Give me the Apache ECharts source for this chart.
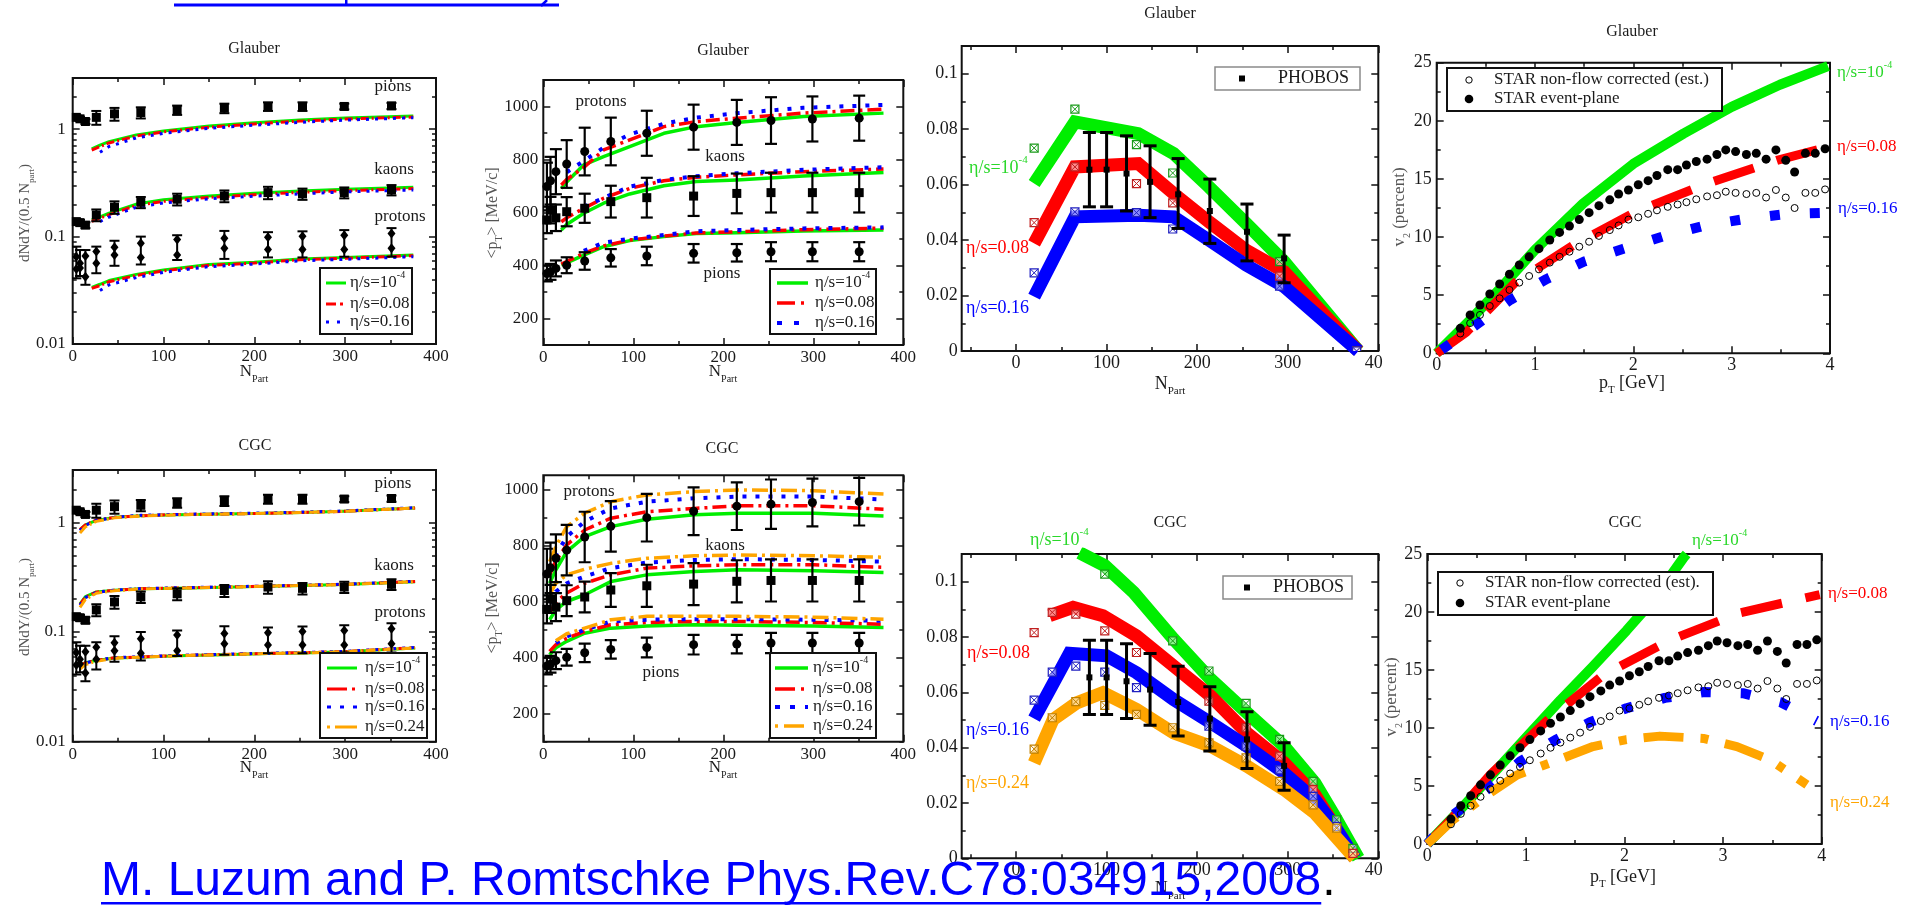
<!DOCTYPE html>
<html>
<head>
<meta charset="utf-8">
<script src="https://cdn.jsdelivr.net/npm/echarts@6/dist/echarts.min.js"></script>
<style>
  html, body { margin: 0; padding: 0; background: #fff; }
  #chart { width: 1907px; height: 905px; }
</style>
</head>
<body>
<div id="chart"></div>
<script>
// ===================== DATA =====================
// STAR identified hadrons, Au+Au 200 GeV, centrality bins (N_part)
const npartStar = [4, 8, 14, 26, 46, 75, 115, 167, 215, 253, 299, 351];
// dN/dY / (0.5 N_part)
const pionYield      = [1.29, 1.25, 1.18, 1.29, 1.39, 1.43, 1.51, 1.57, 1.63, 1.63, 1.63, 1.65];
const pionYieldErr   = [0.06, 0.06, 0.06, 0.19, 0.19, 0.17, 0.15, 0.16, 0.15, 0.15, 0.10, 0.11];
const kaonYield      = [0.138, 0.135, 0.128, 0.159, 0.188, 0.209, 0.223, 0.239, 0.257, 0.250, 0.257, 0.272];
const kaonYieldErr   = [0.008, 0.008, 0.008, 0.020, 0.025, 0.025, 0.028, 0.030, 0.034, 0.030, 0.030, 0.030];
const protonYieldA   = [0.065, 0.0565, 0.066, 0.0726, 0.0797, 0.0866, 0.094, 0.0967, 0.0986, 0.101, 0.103, 0.107];
const protonYieldB   = [0.050, 0.051, 0.0424, 0.0565, 0.0675, 0.064, 0.0675, 0.078, 0.076, 0.076, 0.076, 0.078];
const protonYieldHi  = [0.0807, 0.075, 0.075, 0.0807, 0.0915, 0.100, 0.103, 0.113, 0.110, 0.112, 0.115, 0.120];
const protonYieldLo  = [0.0409, 0.043, 0.0356, 0.0456, 0.0535, 0.055, 0.0606, 0.062, 0.064, 0.064, 0.065, 0.065];
// <p_T> [MeV/c]
const pionMeanPt      = [370, 376, 389, 401, 417, 429, 436, 446, 448, 452, 452, 452];
const pionMeanPtErr   = [30, 30, 30, 30, 33, 33, 35, 35, 33, 36, 36, 36];
const kaonMeanPt      = [572, 609, 580, 603, 616, 641, 656, 662, 672, 675, 675, 675];
const kaonMeanPtErr   = [50, 50, 50, 55, 55, 60, 75, 75, 75, 75, 75, 75];
const protonMeanPt    = [698, 720, 754, 783, 830, 868, 899, 922, 940, 947, 953, 956];
const protonMeanPtErr = [90, 90, 85, 90, 90, 90, 85, 85, 85, 88, 85, 85];

// Glauber hydro: yields
const glbYieldNpart   = [21, 30, 40, 70, 100, 150, 200, 250, 300, 375];
const glbPionYield0   = [0.656, 0.71, 0.767, 0.886, 0.965, 1.07, 1.15, 1.22, 1.27, 1.33];
const glbPionYield08  = [0.64, 0.69, 0.745, 0.865, 0.945, 1.045, 1.12, 1.19, 1.245, 1.30];
const glbPionYield16  = [null, 0.61, 0.69, 0.83, 0.915, 1.02, 1.09, 1.16, 1.215, 1.28];
const glbKaonYield0   = [0.143, 0.153, 0.165, 0.201, 0.220, 0.239, 0.253, 0.266, 0.276, 0.288];
const glbKaonYield08  = [0.139, 0.148, 0.160, 0.195, 0.213, 0.232, 0.246, 0.258, 0.268, 0.280];
const glbKaonYield16  = [null, 0.138, 0.152, 0.187, 0.206, 0.225, 0.238, 0.250, 0.261, 0.272];
const glbProtYield0   = [0.0337, 0.036, 0.039, 0.0445, 0.049, 0.055, 0.0577, 0.062, 0.064, 0.0675];
const glbProtYield08  = [0.033, 0.035, 0.038, 0.0435, 0.048, 0.054, 0.0567, 0.061, 0.063, 0.0665];
const glbProtYield16  = [null, 0.0315, 0.0355, 0.0415, 0.0465, 0.0525, 0.0555, 0.0595, 0.0615, 0.065];

// Glauber hydro: <p_T>
const glbPtNpart      = [20, 26, 45, 67, 96, 134, 170, 215, 289, 378];
const glbPionPt0      = [402, 410, 439, 471, 494, 509, 521, 524, 530, 534];
const glbPionPt08     = [405, 415, 446, 474, 496, 511, 523, 527, 535, 541];
const glbPionPt16     = [null, null, 455, 486, 501, 515, 529, 534, 540, 544];
const glbKaonPt0      = [534, 555, 597, 635, 670, 701, 717, 723, 738, 751];
const glbKaonPt08     = [565, 580, 616, 654, 691, 720, 733, 742, 754, 764];
const glbKaonPt16     = [null, null, 622, 655, 698, 723, 737, 748, 761, 771];
const glbProtPt0      = [691, 715, 780, 811, 849, 899, 924, 940, 962, 975];
const glbProtPt08     = [704, 725, 770, 836, 874, 924, 943, 956, 975, 990];
const glbProtPt16     = [null, 752, 795, 845, 895, 935, 958, 975, 995, 1006];

// CGC hydro: yields
const cgcYieldNpart   = [8, 14, 26, 46, 75, 115, 167, 215, 253, 299, 377];
const cgcPionYield0   = [0.86, 0.95, 1.04, 1.11, 1.15, 1.17, 1.19, 1.21, 1.23, 1.26, 1.35];
const cgcPionYield08  = [0.86, 0.95, 1.05, 1.11, 1.15, 1.18, 1.19, 1.21, 1.23, 1.26, 1.35];
const cgcPionYield16  = [0.84, 0.94, 1.04, 1.11, 1.16, 1.18, 1.20, 1.22, 1.24, 1.27, 1.36];
const cgcPionYield24  = [0.80, 0.91, 1.02, 1.10, 1.14, 1.17, 1.19, 1.21, 1.23, 1.26, 1.35];
const cgcKaonYield0   = [0.180, 0.210, 0.232, 0.240, 0.248, 0.251, 0.256, 0.262, 0.266, 0.271, 0.288];
const cgcKaonYield08  = [0.178, 0.208, 0.231, 0.240, 0.248, 0.252, 0.257, 0.262, 0.266, 0.272, 0.289];
const cgcKaonYield16  = [0.176, 0.206, 0.230, 0.241, 0.249, 0.253, 0.258, 0.263, 0.267, 0.273, 0.290];
const cgcKaonYield24  = [0.168, 0.198, 0.226, 0.238, 0.247, 0.251, 0.256, 0.262, 0.266, 0.271, 0.288];
const cgcProtYield0   = [0.049, 0.0526, 0.055, 0.058, 0.059, 0.0607, 0.0622, 0.0636, 0.0645, 0.066, 0.0716];
const cgcProtYield08  = [0.049, 0.0525, 0.0552, 0.0582, 0.0592, 0.061, 0.0625, 0.0638, 0.0648, 0.0663, 0.072];
const cgcProtYield16  = [0.048, 0.052, 0.0553, 0.0585, 0.0595, 0.0612, 0.0628, 0.064, 0.065, 0.0665, 0.0722];
const cgcProtYield24  = [0.046, 0.0505, 0.054, 0.0578, 0.059, 0.0607, 0.0622, 0.0636, 0.0645, 0.066, 0.0716];

// CGC hydro: <p_T>
const cgcPtNpart      = [7, 14, 26, 46, 75, 115, 168, 217, 301, 378];
const cgcPionPt0      = [410, 435, 458, 487, 505, 513, 517, 515, 513, 507];
const cgcPionPt08     = [422, 446, 469, 493, 517, 525, 529, 529, 525, 519];
const cgcPionPt16     = [null, 452, 475, 499, 529, 535, 537, 537, 535, 531];
const cgcPionPt24     = [null, 460, 485, 505, 535, 547, 547, 547, 544, 537];
const cgcKaonPt0      = [535, 570, 600, 624, 671, 695, 707, 713, 710, 703];
const cgcKaonPt08     = [558, 598, 630, 665, 695, 719, 727, 731, 731, 722];
const cgcKaonPt16     = [594, 635, 665, 689, 719, 739, 748, 751, 748, 742];
const cgcKaonPt24     = [624, 665, 695, 715, 736, 754, 763, 766, 763, 758];
const cgcProtPt0      = [665, 713, 778, 831, 867, 893, 909, 915, 915, 905];
const cgcProtPt08     = [695, 745, 802, 855, 897, 920, 932, 941, 941, 929];
const cgcProtPt16     = [719, 766, 831, 885, 932, 956, 968, 974, 974, 964];
const cgcProtPt24     = [742, 796, 867, 915, 956, 980, 992, 998, 995, 983];

// PHOBOS integrated v2 vs N_part
const phobosNpart = [81, 100, 122, 148, 179, 214, 255, 296];
const phobosV2    = [0.0654, 0.0654, 0.064, 0.061, 0.0565, 0.0505, 0.043, 0.0334];
const phobosV2Hi  = [0.0788, 0.0788, 0.0776, 0.074, 0.0694, 0.062, 0.053, 0.0418];
const phobosV2Lo  = [0.052, 0.052, 0.0505, 0.0481, 0.0442, 0.0388, 0.0325, 0.0246];

// Glauber hydro: integrated v2 bands
const glbV2Npart  = [20, 65, 135, 174, 213, 254, 296, 378];
const glbV2Band0  = [0.0604, 0.0826, 0.0784, 0.0712, 0.0592, 0.046, 0.0322, 0.0];
const glbV2Band08 = [0.0388, 0.0664, 0.0676, 0.0568, 0.0466, 0.0364, 0.0286, 0.0];
const glbV2Band16 = [0.0196, 0.0484, 0.049, 0.0484, 0.040, 0.031, 0.0232, 0.0];
const glbV2PtsNpart = [20, 65, 133, 173, 291, 376];
const glbV2Pts0   = [0.0732, 0.0872, 0.0744, 0.0642, 0.0322, 0.0];
const glbV2Pts08  = [0.0463, 0.0664, 0.0604, 0.0534, 0.027, 0.0];
const glbV2Pts16  = [0.0282, 0.0502, 0.0499, 0.044, 0.0234, 0.0];

// CGC hydro: integrated v2 bands
const cgcV2Npart0  = [70, 98, 130, 174, 215, 255, 296, 330, 352, 378];
const cgcV2Band0   = [0.1105, 0.1058, 0.0961, 0.0792, 0.0647, 0.0526, 0.0405, 0.0272, 0.0151, 0.0];
const cgcV2Npart08 = [37, 63, 96, 133, 174, 215, 255, 296, 330, 352, 374];
const cgcV2Band08  = [0.0877, 0.0907, 0.0877, 0.0804, 0.0695, 0.0586, 0.0453, 0.0345, 0.023, 0.0115, 0.0];
const cgcV2Npart16 = [20, 59, 100, 133, 174, 215, 255, 296, 330, 352, 374];
const cgcV2Band16  = [0.0505, 0.0741, 0.0732, 0.0671, 0.0574, 0.049, 0.0405, 0.0308, 0.0212, 0.0115, 0.0];
const cgcV2Npart24 = [20, 41, 67, 96, 133, 174, 215, 255, 296, 330, 374];
const cgcV2Band24  = [0.0345, 0.0502, 0.0562, 0.0599, 0.0538, 0.0453, 0.0405, 0.0333, 0.0248, 0.0163, 0.0];
const cgcV2PtsNpart = [20, 40, 66, 98, 133, 173, 213, 254, 291, 328, 354, 372];
const cgcV2Pts0    = [null, null, null, 0.1027, null, 0.0786, 0.0677, 0.056, 0.043, 0.0278, 0.0139, 0.0036];
const cgcV2Pts08   = [0.0816, 0.0889, 0.0883, 0.0822, 0.0744, null, 0.0568, 0.0472, 0.0369, 0.0248, 0.0115, 0.0018];
const cgcV2Pts16   = [0.0572, 0.0673, 0.0695, 0.0673, 0.0617, null, 0.0478, 0.0405, 0.032, 0.0224, 0.0115, null];
const cgcV2Pts24   = [0.0395, 0.0508, 0.0566, 0.0553, 0.052, 0.0472, 0.0417, 0.0363, 0.0278, 0.0193, 0.0109, null];

// STAR differential v2(p_T) [percent]
const starPt     = [0.24, 0.34, 0.44, 0.54, 0.64, 0.74, 0.84, 0.94, 1.04, 1.15, 1.25, 1.35, 1.45, 1.55, 1.65, 1.76, 1.85, 1.95, 2.05, 2.15, 2.24, 2.35, 2.45, 2.54, 2.64, 2.75, 2.85, 2.94, 3.04, 3.15, 3.25, 3.35, 3.45, 3.55, 3.64, 3.75, 3.85, 3.95];
const starEpV2   = [2.15, 3.3, 4.16, 5.1, 5.96, 6.8, 7.6, 8.3, 9.0, 9.75, 10.4, 10.95, 11.5, 12.1, 12.7, 13.2, 13.7, 14.05, 14.5, 14.85, 15.3, 15.8, 15.8, 16.2, 16.5, 16.7, 17.1, 17.5, 17.35, 17.1, 17.2, 16.7, 17.5, 16.6, 15.6, 17.2, 17.2, 17.6];
const starNfV2   = [1.7, 2.6, 3.3, 4.07, 4.73, 5.45, 6.08, 6.65, 7.22, 7.8, 8.3, 8.74, 9.17, 9.6, 10.1, 10.6, 11.0, 11.5, 11.7, 12.0, 12.3, 12.6, 12.8, 13.0, 13.25, 13.5, 13.6, 13.9, 13.8, 13.7, 13.8, 13.4, 14.05, 13.4, 12.5, 13.8, 13.8, 14.1];

// Glauber hydro: v2(p_T)
const glbDiffPt0   = [0, 0.34, 0.68, 1.0, 1.49, 2.0, 2.51, 3.0, 3.49, 3.98];
const glbDiffV20   = [0, 2.87, 5.88, 8.9, 12.9, 16.3, 18.9, 21.2, 23.1, 24.7];
const glbDiffPt08  = [0, 0.3, 0.8, 1.39, 2.03, 2.75, 3.46, 4.0];
const glbDiffV208  = [0, 1.8, 6.1, 9.3, 12.2, 14.6, 16.6, 17.8];
const glbDiffPt16  = [0.05, 0.41, 0.75, 1.12, 1.5, 1.9, 2.32, 2.73, 3.17, 3.58, 3.98];
const glbDiffV216  = [0.3, 2.5, 4.6, 6.4, 7.9, 9.0, 10.1, 11.0, 11.6, 12.0, 12.1];

// CGC hydro: v2(p_T)
const cgcDiffPt0   = [0, 0.33, 0.67, 1.01, 1.35, 1.68, 2.02, 2.29, 2.6, 2.63];
const cgcDiffV20   = [0, 2.93, 6.09, 9.25, 12.4, 15.3, 18.4, 21.0, 24.7, 25.0];
const cgcDiffPt08  = [0, 0.26, 0.64, 1.21, 1.79, 2.47, 3.16, 3.98];
const cgcDiffV208  = [0, 2.3, 6.0, 10.6, 14.6, 17.6, 19.9, 21.5];
const cgcDiffPt16  = [0, 0.26, 0.6, 0.94, 1.3, 1.65, 2.02, 2.41, 2.81, 3.2, 3.59, 3.95];
const cgcDiffV216  = [0, 2.5, 4.65, 7.1, 8.97, 10.5, 11.7, 12.6, 13.1, 13.0, 12.2, 10.6];
const cgcDiffPt24  = [0, 0.26, 0.6, 0.91, 1.28, 1.68, 2.02, 2.36, 2.8, 3.14, 3.48, 3.85];
const cgcDiffV224  = [0, 2.07, 4.2, 5.95, 7.1, 8.4, 9.0, 9.3, 9.1, 8.4, 7.24, 5.1];

// Tick values
const npartTicks      = [0, 100, 200, 300, 400];
const npartMinor      = [50, 150, 250, 350];
const npartTicksV2    = [0, 100, 200, 300, 400];
const npartMinorV2    = [-50, 50, 150, 250, 350];
const yieldTicks      = [0.01, 0.1, 1];
const yieldMinor      = [0.02, 0.03, 0.04, 0.05, 0.06, 0.07, 0.08, 0.09, 0.2, 0.3, 0.4, 0.5, 0.6, 0.7, 0.8, 0.9, 2];
const meanPtTicks     = [200, 400, 600, 800, 1000];
const meanPtMinor     = [100, 300, 500, 700, 900, 1100];
const intV2Ticks      = [0, 0.02, 0.04, 0.06, 0.08, 0.1];
const intV2Minor      = [0.01, 0.03, 0.05, 0.07, 0.09];
const ptTicks         = [0, 1, 2, 3, 4];
const ptMinor         = [0.5, 1.5, 2.5, 3.5];
const diffV2Ticks     = [0, 5, 10, 15, 20, 25];
const diffV2Minor     = [2.5, 7.5, 12.5, 17.5, 22.5];

// ===================== STYLE / LAYOUT =====================
const SERIF = '"Liberation Serif", "Times New Roman", serif';
const SANS = '"Liberation Sans", Arial, sans-serif';
const GREEN = '#00ee00', RED = '#ff0000', BLUE = '#0000ff', ORANGE = '#ffa500';
const GREEN_TXT = '#2ad82a';
const INK = '#1a1a1a';

const GRIDS = [
  {left: 72.7,   top: 78,    width: 363.3, height: 266},
  {left: 543.3,  top: 80,    width: 360,   height: 265},
  {left: 961.7,  top: 46,    width: 416.6, height: 305},
  {left: 1436.7, top: 62.7,  width: 393.3, height: 290.6},
  {left: 72.7,   top: 470,   width: 363.3, height: 271.7},
  {left: 543.3,  top: 475.3, width: 360,   height: 266.4},
  {left: 961.7,  top: 554,   width: 416.6, height: 304.3},
  {left: 1427.3, top: 554,   width: 394.4, height: 290}
];

const fmtNum = v => String(v);
const AXES = [
  {x: {min: 0, max: 400, major: npartTicks, minor: npartMinor, fs: 17, margin: 4},
   y: {type: 'log', min: 0.01, max: 3, major: yieldTicks, minor: yieldMinor, fs: 17, margin: 7}},
  {x: {min: 0, max: 400, major: npartTicks, minor: npartMinor, fs: 17, margin: 4},
   y: {min: 100, max: 1100, major: meanPtTicks, minor: meanPtMinor, fs: 17, margin: 5}},
  {x: {min: -60, max: 400, major: npartTicksV2, minor: npartMinorV2, fs: 18, margin: 3},
   y: {min: 0, max: 0.11, major: intV2Ticks, minor: intV2Minor, fs: 18, margin: 4}},
  {x: {min: 0, max: 4, major: ptTicks, minor: ptMinor, fs: 18, margin: 3},
   y: {min: 0, max: 25, major: diffV2Ticks, minor: diffV2Minor, fs: 18, margin: 5}},
  {x: {min: 0, max: 400, major: npartTicks, minor: npartMinor, fs: 17, margin: 4},
   y: {type: 'log', min: 0.01, max: 3, major: yieldTicks, minor: yieldMinor, fs: 17, margin: 7}},
  {x: {min: 0, max: 400, major: npartTicks, minor: npartMinor, fs: 17, margin: 4},
   y: {min: 100, max: 1050, major: meanPtTicks, minor: meanPtMinor.slice(0, 5), fs: 17, margin: 5}},
  {x: {min: -60, max: 400, major: npartTicksV2, minor: npartMinorV2, fs: 18, margin: 3},
   y: {min: 0, max: 0.11, major: intV2Ticks, minor: intV2Minor, fs: 18, margin: 4}},
  {x: {min: 0, max: 4, major: ptTicks, minor: ptMinor, fs: 18, margin: 3},
   y: {min: 0, max: 25, major: diffV2Ticks, minor: diffV2Minor, fs: 18, margin: 5}}
];

// Four axes per direction and grid: labelled major, minor, mirrored major, mirrored minor
function buildAxes(dim, gi, c) {
  const sides = dim === 'x' ? ['bottom', 'top'] : ['left', 'right'];
  const out = [];
  sides.forEach((side, si) => {
    [['major', 7], ['minor', 4]].forEach(([kind, len]) => {
      const vals = c[kind];
      const labelled = si === 0 && kind === 'major';
      const ax = {
        gridIndex: gi, type: c.type || 'value', min: c.min, max: c.max, position: side,
        axisLine: {show: false, onZero: false}, splitLine: {show: false}, silent: true,
        axisTick: {show: true, inside: true, length: len, customValues: vals,
                   lineStyle: {color: '#111', width: 1.5}},
        axisLabel: labelled
          ? {show: true, customValues: vals, fontFamily: SERIF, fontSize: c.fs, color: INK,
             margin: c.margin, formatter: fmtNum}
          : {show: false}
      };
      if (c.type === 'log') ax.logBase = 10;
      out.push(ax);
    });
  });
  return out;
}

const xAxes = [], yAxes = [];
AXES.forEach((a, gi) => {
  xAxes.push(...buildAxes('x', gi, a.x));
  yAxes.push(...buildAxes('y', gi, a.y));
});

// ===================== SERIES =====================
const pairs = (xs, ys) => xs.map((x, i) => [x, ys[i]]).filter(p => p[1] != null);
const series = [];

function curve(gi, xs, ys, color, width, dash, z) {
  series.push({
    type: 'line', xAxisIndex: gi * 4, yAxisIndex: gi * 4, data: pairs(xs, ys),
    showSymbol: false, symbol: 'none', silent: true, clip: true, z: z || 2,
    lineStyle: {color, width, type: dash || 'solid', cap: 'butt', join: 'round'}
  });
}
function band(gi, xs, ys, color) {
  series.push({
    type: 'line', xAxisIndex: gi * 4, yAxisIndex: gi * 4, data: pairs(xs, ys),
    showSymbol: false, symbol: 'none', silent: true, clip: true, z: 2,
    lineStyle: {color, width: 13, cap: 'butt', join: 'miter'}
  });
}
function points(gi, xs, ys, symbol, size, fill, stroke, bw) {
  series.push({
    type: 'scatter', xAxisIndex: gi * 4, yAxisIndex: gi * 4, data: pairs(xs, ys),
    symbol, symbolSize: size, silent: true, z: 5,
    itemStyle: {color: fill, borderColor: stroke || fill, borderWidth: bw || 0, opacity: 1}
  });
}
function errorBars(gi, xs, lo, hi, capHalf, lw) {
  series.push({
    type: 'custom', xAxisIndex: gi * 4, yAxisIndex: gi * 4, silent: true, z: 4, clip: true,
    data: xs.map((x, i) => [x, lo[i], hi[i]]),
    encode: {x: 0, y: [1, 2]},
    renderItem: (params, api) => {
      const x = api.value(0);
      const a = api.coord([x, api.value(1)]);
      const b = api.coord([x, api.value(2)]);
      const st = {stroke: '#000', lineWidth: lw};
      return {type: 'group', children: [
        {type: 'line', shape: {x1: a[0], y1: a[1], x2: b[0], y2: b[1]}, style: st},
        {type: 'line', shape: {x1: a[0] - capHalf, y1: a[1], x2: a[0] + capHalf, y2: a[1]}, style: st},
        {type: 'line', shape: {x1: b[0] - capHalf, y1: b[1], x2: b[0] + capHalf, y2: b[1]}, style: st}
      ]};
    }
  });
}
function crossBoxes(gi, xs, ys, color) {
  series.push({
    type: 'custom', xAxisIndex: gi * 4, yAxisIndex: gi * 4, silent: true, z: 4, clip: true,
    data: pairs(xs, ys), encode: {x: 0, y: 1},
    renderItem: (params, api) => {
      const c = api.coord([api.value(0), api.value(1)]);
      const h = 4;
      return {type: 'group', children: [
        {type: 'rect', shape: {x: c[0] - h, y: c[1] - h, width: 2 * h, height: 2 * h},
         style: {stroke: color, lineWidth: 1.2, fill: 'rgba(255,255,255,0.55)'}},
        {type: 'line', shape: {x1: c[0] - h, y1: c[1] - h, x2: c[0] + h, y2: c[1] + h}, style: {stroke: color, lineWidth: 1}},
        {type: 'line', shape: {x1: c[0] + h, y1: c[1] - h, x2: c[0] - h, y2: c[1] + h}, style: {stroke: color, lineWidth: 1}}
      ]};
    }
  });
}
const minus = (v, e) => v.map((x, i) => x - e[i]);
const plus = (v, e) => v.map((x, i) => x + e[i]);

// dash patterns
const THIN_RED = [8, 3, 2, 3], THIN_BLUE = [3, 6], THIN_ORANGE = [10, 3, 2, 3];
const MID_RED = [14, 5, 3, 5], MID_BLUE = [4, 9], MID_ORANGE = [16, 5, 3, 5];
const FAT_RED = [42, 24], FAT_BLUE = [10, 30], FAT_ORANGE = [40, 17, 8, 17];

// --- yields (panels 0 and 4) ---
function yieldData(gi) {
  errorBars(gi, npartStar, minus(pionYield, pionYieldErr), plus(pionYield, pionYieldErr), 5, 2);
  errorBars(gi, npartStar, minus(kaonYield, kaonYieldErr), plus(kaonYield, kaonYieldErr), 5, 2);
  errorBars(gi, npartStar, protonYieldLo, protonYieldHi, 5, 2);
  points(gi, npartStar, pionYield, 'rect', 9, '#000');
  points(gi, npartStar, kaonYield, 'rect', 9, '#000');
  points(gi, npartStar, protonYieldA, 'diamond', [8, 10], '#000');
  points(gi, npartStar, protonYieldB, 'diamond', [8, 10], '#000');
}
curve(0, glbYieldNpart, glbPionYield0, GREEN, 3);
curve(0, glbYieldNpart, glbPionYield08, RED, 3, THIN_RED);
curve(0, glbYieldNpart, glbPionYield16, BLUE, 3, THIN_BLUE);
curve(0, glbYieldNpart, glbKaonYield0, GREEN, 3);
curve(0, glbYieldNpart, glbKaonYield08, RED, 3, THIN_RED);
curve(0, glbYieldNpart, glbKaonYield16, BLUE, 3, THIN_BLUE);
curve(0, glbYieldNpart, glbProtYield0, GREEN, 3);
curve(0, glbYieldNpart, glbProtYield08, RED, 3, THIN_RED);
curve(0, glbYieldNpart, glbProtYield16, BLUE, 3, THIN_BLUE);
yieldData(0);

[[cgcPionYield0, cgcPionYield08, cgcPionYield16, cgcPionYield24],
 [cgcKaonYield0, cgcKaonYield08, cgcKaonYield16, cgcKaonYield24],
 [cgcProtYield0, cgcProtYield08, cgcProtYield16, cgcProtYield24]].forEach(set => {
  curve(4, cgcYieldNpart, set[0], GREEN, 3);
  curve(4, cgcYieldNpart, set[1], RED, 3, THIN_RED);
  curve(4, cgcYieldNpart, set[2], BLUE, 3, THIN_BLUE);
  curve(4, cgcYieldNpart, set[3], ORANGE, 3, THIN_ORANGE);
});
yieldData(4);

// --- mean pT (panels 1 and 5) ---
function meanPtData(gi) {
  errorBars(gi, npartStar, minus(pionMeanPt, pionMeanPtErr), plus(pionMeanPt, pionMeanPtErr), 6, 2.2);
  errorBars(gi, npartStar, minus(kaonMeanPt, kaonMeanPtErr), plus(kaonMeanPt, kaonMeanPtErr), 6, 2.2);
  errorBars(gi, npartStar, minus(protonMeanPt, protonMeanPtErr), plus(protonMeanPt, protonMeanPtErr), 6, 2.2);
  points(gi, npartStar, pionMeanPt, 'circle', 9, '#000');
  points(gi, npartStar, kaonMeanPt, 'rect', 9, '#000');
  points(gi, npartStar, protonMeanPt, 'circle', 9, '#000');
}
[[glbProtPt0, glbProtPt08, glbProtPt16], [glbKaonPt0, glbKaonPt08, glbKaonPt16],
 [glbPionPt0, glbPionPt08, glbPionPt16]].forEach(set => {
  curve(1, glbPtNpart, set[0], GREEN, 3.5);
  curve(1, glbPtNpart, set[1], RED, 3.5, MID_RED);
  curve(1, glbPtNpart, set[2], BLUE, 4, MID_BLUE);
});
meanPtData(1);
[[cgcProtPt0, cgcProtPt08, cgcProtPt16, cgcProtPt24], [cgcKaonPt0, cgcKaonPt08, cgcKaonPt16, cgcKaonPt24],
 [cgcPionPt0, cgcPionPt08, cgcPionPt16, cgcPionPt24]].forEach(set => {
  curve(5, cgcPtNpart, set[0], GREEN, 3.5);
  curve(5, cgcPtNpart, set[1], RED, 3.5, MID_RED);
  curve(5, cgcPtNpart, set[2], BLUE, 4, MID_BLUE);
  curve(5, cgcPtNpart, set[3], ORANGE, 3.5, MID_ORANGE);
});
meanPtData(5);

// --- integrated v2 (panels 2 and 6) ---
band(2, glbV2Npart, glbV2Band0, GREEN);
band(2, glbV2Npart, glbV2Band08, RED);
band(2, glbV2Npart, glbV2Band16, BLUE);
crossBoxes(2, glbV2PtsNpart, glbV2Pts0, '#1a9a1a');
crossBoxes(2, glbV2PtsNpart, glbV2Pts08, '#c02020');
crossBoxes(2, glbV2PtsNpart, glbV2Pts16, '#2020c0');
errorBars(2, phobosNpart, phobosV2Lo, phobosV2Hi, 6.5, 3);
points(2, phobosNpart, phobosV2, 'rect', 6, '#000');

band(6, cgcV2Npart0, cgcV2Band0, GREEN);
band(6, cgcV2Npart08, cgcV2Band08, RED);
band(6, cgcV2Npart16, cgcV2Band16, BLUE);
band(6, cgcV2Npart24, cgcV2Band24, ORANGE);
crossBoxes(6, cgcV2PtsNpart, cgcV2Pts0, '#1a9a1a');
crossBoxes(6, cgcV2PtsNpart, cgcV2Pts08, '#c02020');
crossBoxes(6, cgcV2PtsNpart, cgcV2Pts16, '#2020c0');
crossBoxes(6, cgcV2PtsNpart, cgcV2Pts24, '#c08000');
errorBars(6, phobosNpart, phobosV2Lo, phobosV2Hi, 6.5, 3);
points(6, phobosNpart, phobosV2, 'rect', 6, '#000');

// --- differential v2 (panels 3 and 7) ---
curve(3, glbDiffPt0, glbDiffV20, GREEN, 10);
curve(3, glbDiffPt08, glbDiffV208, RED, 9, FAT_RED);
curve(3, glbDiffPt16, glbDiffV216, BLUE, 10, FAT_BLUE);
curve(7, cgcDiffPt0, cgcDiffV20, GREEN, 10);
curve(7, cgcDiffPt08, cgcDiffV208, RED, 9, FAT_RED);
curve(7, cgcDiffPt16, cgcDiffV216, BLUE, 10, FAT_BLUE);
curve(7, cgcDiffPt24, cgcDiffV224, ORANGE, 9, FAT_ORANGE);
[3, 7].forEach(gi => {
  points(gi, starPt, starNfV2, 'circle', 7, 'rgba(255,255,255,0)', '#000', 1);
  points(gi, starPt, starEpV2, 'circle', 9, '#000');
});

// ===================== ANNOTATIONS =====================
const G = [];
function txt(x, y, s, o) {
  G.push({type: 'text', x, y, silent: true, z: 60,
    style: Object.assign({text: s, fontFamily: SERIF, fontSize: 17, fill: INK,
                          align: 'center', verticalAlign: 'middle'}, o || {})});
}
function richTxt(x, y, s, size, fill, o) {
  const sub = Math.round(size * 0.6);
  const lh = Math.round(size * 1.45);
  G.push(Object.assign({type: 'text', x, y, silent: true, z: 60,
    style: {text: s, align: 'center', verticalAlign: 'middle', fill,
      fontFamily: SERIF, fontSize: size,
      rich: {
        a: {fontFamily: SERIF, fontSize: size, fill, lineHeight: lh, verticalAlign: 'middle'},
        b: {fontFamily: SERIF, fontSize: sub, fill, lineHeight: lh, verticalAlign: 'bottom'},
        s: {fontFamily: SERIF, fontSize: sub, fill, lineHeight: lh, verticalAlign: 'top'}
      }}}, o || {}));
}
const eta = (v) => v === 'ideal' ? '{a|η/s=10}{s|-4}' : '{a|η/s=' + v + '}';
function etaLabel(x, y, v, size, fill) {
  richTxt(x, y, eta(v), size, fill);
  G[G.length - 1].style.align = 'left';
}
function box(x1, y1, x2, y2, stroke, lw) {
  G.push({type: 'rect', silent: true, z: 55, shape: {x: x1, y: y1, width: x2 - x1, height: y2 - y1},
    style: {fill: '#fff', stroke, lineWidth: lw}});
}
function sample(x1, x2, y, color, width, dash) {
  G.push({type: 'line', silent: true, z: 58, shape: {x1, y1: y, x2, y2: y},
    style: {stroke: color, lineWidth: width, lineDash: dash || null, lineCap: 'butt'}});
}

// panel titles
txt(254, 49, 'Glauber', {fontSize: 16});
txt(723, 51, 'Glauber', {fontSize: 16});
txt(1170, 14, 'Glauber', {fontSize: 16});
txt(1632, 32, 'Glauber', {fontSize: 16});
txt(255, 446, 'CGC', {fontSize: 16});
txt(722, 449, 'CGC', {fontSize: 16});
txt(1170, 523, 'CGC', {fontSize: 16});
txt(1625, 523, 'CGC', {fontSize: 16});

// axis titles
const npartName = '{a|N}{b|Part}';
richTxt(254, 372, npartName, 17, INK);
richTxt(723, 372, npartName, 17, INK);
richTxt(1170, 384, npartName, 18, INK);
richTxt(254, 768, npartName, 17, INK);
richTxt(723, 768, npartName, 17, INK);
richTxt(1170, 889, npartName, 18, INK);
richTxt(1632, 383, '{a|p}{b|T}{a| [GeV]}', 18, INK);
richTxt(1623, 877, '{a|p}{b|T}{a| [GeV]}', 18, INK);
const rot = {rotation: Math.PI / 2};
richTxt(25, 213, '{a|dNdY/(0.5 N}{b|part}{a|)}', 15, '#555', rot);
richTxt(25, 607, '{a|dNdY/(0.5 N}{b|part}{a|)}', 15, '#555', rot);
richTxt(493, 213, '{a|<p}{b|T}{a|> [MeV/c]}', 16, '#555', rot);
richTxt(493, 608, '{a|<p}{b|T}{a|> [MeV/c]}', 16, '#555', rot);
richTxt(1400, 207, '{a|v}{b|2}{a| (percent)}', 17, '#555', rot);
richTxt(1392, 697, '{a|v}{b|2}{a| (percent)}', 17, '#555', rot);

// species labels
txt(393, 87, 'pions'); txt(394, 170, 'kaons'); txt(400, 217, 'protons');
txt(601, 102, 'protons'); txt(725, 157, 'kaons'); txt(722, 274, 'pions');
txt(393, 484, 'pions'); txt(394, 566, 'kaons'); txt(400, 613, 'protons');
txt(589, 492, 'protons'); txt(725, 546, 'kaons'); txt(661, 673, 'pions');

// curve labels
etaLabel(969, 168, 'ideal', 18, GREEN_TXT);
etaLabel(966, 248, '0.08', 18, RED);
etaLabel(966, 308, '0.16', 18, BLUE);
etaLabel(1837, 73, 'ideal', 17, GREEN_TXT);
etaLabel(1837, 147, '0.08', 17, RED);
etaLabel(1838, 209, '0.16', 17, BLUE);
etaLabel(1030, 540, 'ideal', 18, GREEN_TXT);
etaLabel(967, 653, '0.08', 18, RED);
etaLabel(966, 730, '0.16', 18, BLUE);
etaLabel(966, 783, '0.24', 18, ORANGE);
etaLabel(1692, 541, 'ideal', 17, GREEN_TXT);
etaLabel(1828, 594, '0.08', 17, RED);
etaLabel(1830, 722, '0.16', 17, BLUE);
etaLabel(1830, 803, '0.24', 17, ORANGE);

// viscosity legends
function viscLegend(x1, y1, x2, y2, lx1, lx2, tx, rows, values, dashes, widths) {
  box(x1, y1, x2, y2, '#111', 2);
  const colors = [GREEN, RED, BLUE, ORANGE];
  rows.forEach((ry, i) => {
    sample(lx1, lx2, ry, colors[i], widths[i], dashes[i]);
    richTxt(tx, ry, eta(values[i]), 17, INK);
    G[G.length - 1].style.align = 'left';
  });
}
viscLegend(320, 268, 412, 334, 326, 346, 350, [283, 304, 322], ['ideal', '0.08', '0.16'],
  [null, [10, 4, 3, 4], [3, 8]], [3, 3, 3]);
viscLegend(770, 269, 876, 334, 777, 808, 815, [283, 303, 323], ['ideal', '0.08', '0.16'],
  [null, [18, 6, 3, 6], [5, 12]], [3.5, 3.5, 4]);
viscLegend(320, 653, 427, 738, 327, 357, 365, [668, 689, 707, 727], ['ideal', '0.08', '0.16', '0.24'],
  [null, [20, 5, 3, 5], [4, 9], [3, 5, 22, 5]], [3, 3, 3, 3]);
viscLegend(770, 653, 876, 738, 775, 808, 813, [668, 689, 707, 726], ['ideal', '0.08', '0.16', '0.24'],
  [null, [20, 6, 3, 6], [5, 10], [3, 6, 20, 6]], [3.5, 3.5, 4, 3.5]);

// PHOBOS legends
function phobosLegend(x1, y1, x2, y2, sx, tx) {
  box(x1, y1, x2, y2, '#8a8a8a', 1.5);
  const cy = (y1 + y2) / 2;
  G.push({type: 'rect', silent: true, z: 58, shape: {x: sx - 3, y: cy - 3, width: 6, height: 6}, style: {fill: '#000'}});
  txt(tx, cy, 'PHOBOS', {fontSize: 18, align: 'left'});
}
phobosLegend(1215, 67, 1360, 90, 1242, 1278);
phobosLegend(1223, 576, 1352, 599, 1247, 1273);

// STAR legends
function starLegend(x1, y1, x2, y2, cx, tx, r1, r2, label) {
  box(x1, y1, x2, y2, '#111', 2);
  G.push({type: 'circle', silent: true, z: 58, shape: {cx, cy: r1, r: 3.2}, style: {fill: 'none', stroke: '#000', lineWidth: 1}});
  G.push({type: 'circle', silent: true, z: 58, shape: {cx, cy: r2, r: 4.3}, style: {fill: '#000'}});
  txt(tx, r1, label, {align: 'left'});
  txt(tx, r2, 'STAR event-plane', {align: 'left'});
}
starLegend(1447, 68, 1722, 111, 1469, 1494, 80, 99, 'STAR non-flow corrected (est.)');
starLegend(1438, 572, 1713, 615, 1460, 1485, 583, 603, 'STAR non-flow corrected (est).');

// the integrated-v2 panels end just after the "40" of their last tick label
G.push({type: 'rect', silent: true, z: 59, shape: {x: 1383, y: 355, width: 14, height: 17}, style: {fill: '#fff'}});
G.push({type: 'rect', silent: true, z: 59, shape: {x: 1383, y: 862, width: 14, height: 17}, style: {fill: '#fff'}});

// link remnants along the top edge
G.push({type: 'rect', silent: true, z: 70, shape: {x: 174, y: 3.5, width: 385, height: 3}, style: {fill: '#0000ff'}});
G.push({type: 'rect', silent: true, z: 70, shape: {x: 345, y: 0, width: 2.5, height: 6}, style: {fill: '#0000ff'}});
G.push({type: 'line', silent: true, z: 70, shape: {x1: 547, y1: 0, x2: 541, y2: 6}, style: {stroke: '#0000ff', lineWidth: 2.5}});

// reference line
const CITE = 'M. Luzum and P. Romtschke Phys.Rev.C78:034915,2008';
const CITE_FONT = '48px ' + SANS;
const measureCtx = document.createElement('canvas').getContext('2d');
measureCtx.font = CITE_FONT;
const citeW = measureCtx.measureText(CITE).width;
const citeX = 101;
G.push({type: 'text', silent: true, z: 100, x: citeX, y: 882,
  style: {text: CITE, font: CITE_FONT, fill: '#0000ff', align: 'left', verticalAlign: 'middle'}});
G.push({type: 'rect', silent: true, z: 100, shape: {x: citeX, y: 902, width: citeW, height: 2.5}, style: {fill: '#0000ff'}});
G.push({type: 'text', silent: true, z: 100, x: citeX + citeW + 1, y: 882,
  style: {text: '.', font: CITE_FONT, fill: '#000', align: 'left', verticalAlign: 'middle'}});

// ===================== CHART =====================
const chart = echarts.init(document.getElementById('chart'), null, {renderer: 'canvas'});
chart.setOption({
  animation: false,
  backgroundColor: '#fff',
  textStyle: {fontFamily: SERIF},
  grid: GRIDS.map(g => Object.assign({show: true, borderColor: '#111', borderWidth: 2,
                                      backgroundColor: 'transparent', containLabel: false}, g)),
  xAxis: xAxes,
  yAxis: yAxes,
  series,
  graphic: {elements: G}
});
</script>
</body>
</html>
